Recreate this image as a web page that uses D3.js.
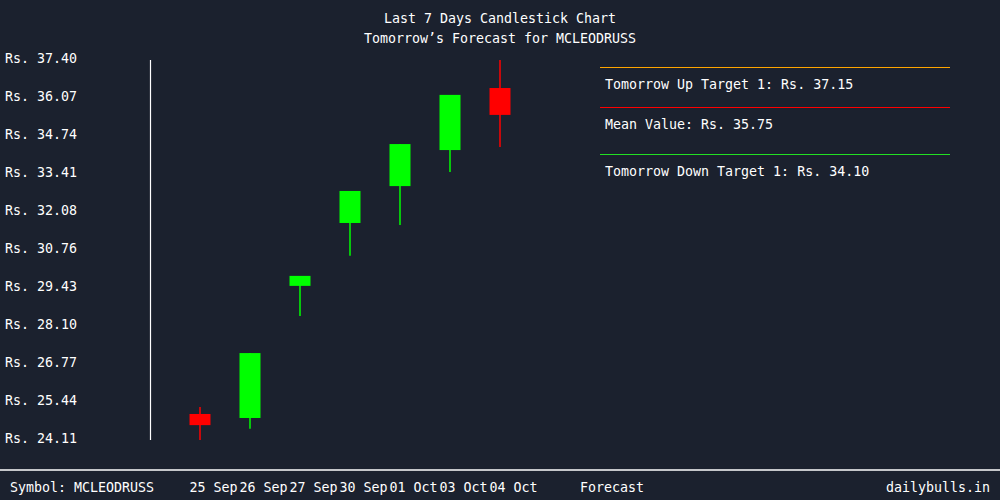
<!DOCTYPE html>
<html>
<head>
<meta charset="utf-8">
<script src="https://cdn.jsdelivr.net/npm/d3@7"></script>
<style>
  html, body { margin: 0; padding: 0; background: #1b212e; }
  svg { display: block; }
  text { font-family: 'DejaVu Sans Mono', 'Liberation Mono', monospace; fill: #ffffff; font-size: 13.3px; }
</style>
</head>
<body>
<div id="chart"></div>
<script>
// candle data
const dates = ['25 Sep', '26 Sep', '27 Sep', '30 Sep', '01 Oct', '03 Oct', '04 Oct'];
const opens = [25.02, 24.88, 29.50, 31.70, 32.99, 34.25, 36.42];
const closes = [24.63, 27.15, 29.85, 32.82, 34.46, 36.18, 35.48];
const highs = [25.26, 27.15, 29.85, 32.82, 34.46, 36.18, 37.40];
const lows = [24.11, 24.50, 28.45, 30.55, 31.63, 33.48, 34.36];

// forecast
const targetLabels = ['Tomorrow Up Target 1: Rs. 37.15', 'Mean Value: Rs. 35.75', 'Tomorrow Down Target 1: Rs. 34.10'];
const targetColors = ['#ffa500', '#ff0000', '#22e022'];

const symbol = 'MCLEODRUSS';

const width = 1000;
const height = 500;

const svg = d3
  .select('#chart')
  .append('svg')
  .attr('width', width)
  .attr('height', height);

svg.append('rect').attr('width', width).attr('height', height).attr('fill', '#1b212e');

// titles
svg.append('text')
  .attr('x', width / 2).attr('y', 23)
  .attr('text-anchor', 'middle')
  .text('Last 7 Days Candlestick Chart');
svg.append('text')
  .attr('x', width / 2).attr('y', 43)
  .attr('text-anchor', 'middle')
  .text(`Tomorrow’s Forecast for ${symbol}`);

// scales
const yMin = d3.min(lows);
const yMax = d3.max(highs);
const yScale = d3.scaleLinear().domain([yMin, yMax]).range([440, 60]);

const xScale = d3.scaleBand().domain(dates).range([175, 525]).paddingInner(0.58).paddingOuter(0.29);

// y labels (11 evenly spaced)
const yTicks = d3.range(11).map((i) => yMax - (i * (yMax - yMin)) / 10);
svg.append('g')
  .selectAll('text')
  .data(yTicks)
  .join('text')
  .attr('x', 5)
  .attr('y', (d) => yScale(d) - 1)
  .attr('dy', '0.32em')
  .text((d) => `Rs. ${(d + 1e-9).toFixed(2)}`);

// axis line
svg.append('line')
  .attr('x1', 150.5).attr('x2', 150.5)
  .attr('y1', yScale(yMax)).attr('y2', yScale(yMin))
  .attr('stroke', '#ffffff')
  .attr('stroke-width', 1.2);

// candles
const candles = dates.map((d, i) => ({
  date: d, open: opens[i], close: closes[i], high: highs[i], low: lows[i],
}));
const colorOf = (d) => (d.close >= d.open ? '#00ff00' : '#ff0000');

const g = svg.append('g');
g.selectAll('line.wick')
  .data(candles)
  .join('line')
  .attr('class', 'wick')
  .attr('x1', (d) => xScale(d.date) + xScale.bandwidth() / 2)
  .attr('x2', (d) => xScale(d.date) + xScale.bandwidth() / 2)
  .attr('y1', (d) => yScale(d.high))
  .attr('y2', (d) => yScale(d.low))
  .attr('stroke', colorOf)
  .attr('stroke-width', 1.5);

g.selectAll('rect.body')
  .data(candles)
  .join('rect')
  .attr('class', 'body')
  .attr('x', (d) => xScale(d.date))
  .attr('width', xScale.bandwidth())
  .attr('y', (d) => yScale(Math.max(d.open, d.close)))
  .attr('height', (d) => Math.abs(yScale(d.open) - yScale(d.close)))
  .attr('fill', colorOf);

// forecast legend
const lineY = [67, 107, 154];
const legend = svg.append('g');
legend.selectAll('line')
  .data(targetLabels)
  .join('line')
  .attr('x1', 600).attr('x2', 950)
  .attr('y1', (d, i) => lineY[i] + 0.5).attr('y2', (d, i) => lineY[i] + 0.5)
  .attr('stroke', (d, i) => targetColors[i])
  .attr('stroke-width', 1);
legend.selectAll('text')
  .data(targetLabels)
  .join('text')
  .attr('x', 605)
  .attr('y', (d, i) => lineY[i] + 18)
  .attr('dy', '0.32em')
  .text((d) => d);

// footer
svg.append('line')
  .attr('x1', 0).attr('x2', width)
  .attr('y1', 470).attr('y2', 470)
  .attr('stroke', '#ffffff')
  .attr('stroke-width', 1.5);

svg.append('text')
  .attr('x', 10).attr('y', 488).attr('dy', '0.32em')
  .text(`Symbol: ${symbol}`);

svg.append('g')
  .selectAll('text')
  .data(dates)
  .join('text')
  .attr('x', (d) => xScale(d))
  .attr('y', 488).attr('dy', '0.32em')
  .text((d) => d);

svg.append('text')
  .attr('x', 580).attr('y', 488).attr('dy', '0.32em')
  .text('Forecast');

svg.append('text')
  .attr('x', 990).attr('y', 488).attr('dy', '0.32em')
  .attr('text-anchor', 'end')
  .text('dailybulls.in');
</script>
</body>
</html>
